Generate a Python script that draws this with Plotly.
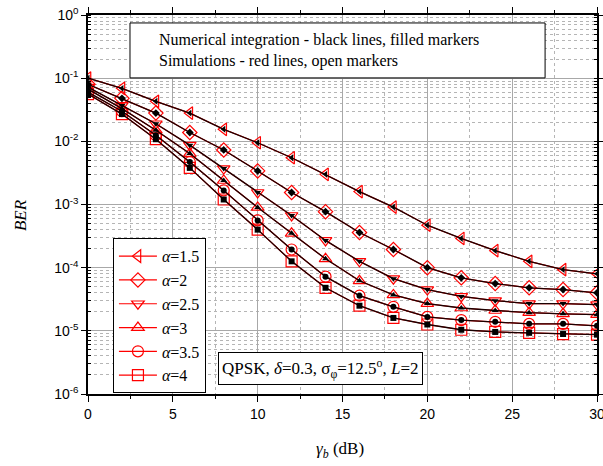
import plotly.graph_objects as go

snr_db = [0, 2, 4, 6, 8, 10, 12, 14, 16, 18, 20, 22, 24, 26, 28, 30]

ber_a15 = [0.1, 0.069, 0.043, 0.028, 0.0155, 0.0095, 0.0055, 0.0030, 0.0016, 0.00091,
           0.00047, 0.00029, 0.000186, 0.000126, 9.3e-5, 8.0e-5]
ber_a2 = [0.08, 0.048, 0.028, 0.0138, 0.0073, 0.0034, 0.00155, 0.00077, 0.00036, 0.000194,
          0.0001, 6.9e-5, 5.6e-5, 4.8e-5, 4.5e-5, 4.0e-5]
ber_a25 = [0.072, 0.037, 0.019, 0.0087, 0.0037, 0.00155, 0.00067, 0.00027, 0.000126, 6.7e-5,
           4.5e-5, 3.5e-5, 3.0e-5, 2.7e-5, 2.7e-5, 2.6e-5]
ber_a3 = [0.067, 0.033, 0.015, 0.0064, 0.0024, 0.0009, 0.00035, 0.000138, 6.2e-5, 3.7e-5,
          2.7e-5, 2.3e-5, 2.1e-5, 1.94e-5, 1.86e-5, 1.8e-5]
ber_a35 = [0.06, 0.030, 0.0125, 0.0047, 0.00167, 0.00056, 0.000194, 7.2e-5, 3.6e-5, 2.4e-5,
           1.66e-5, 1.48e-5, 1.39e-5, 1.29e-5, 1.29e-5, 1.2e-5]
ber_a4 = [0.056, 0.027, 0.0108, 0.0038, 0.0012, 0.0004, 0.000126, 4.8e-5, 2.5e-5, 1.6e-5,
          1.26e-5, 1.04e-5, 9.6e-6, 9.3e-6, 8.9e-6, 8.7e-6]

alpha_labels = ["1.5", "2", "2.5", "3", "3.5", "4"]
series = [ber_a15, ber_a2, ber_a25, ber_a3, ber_a35, ber_a4]
symbols = ["triangle-left", "diamond", "triangle-down", "triangle-up", "circle", "square"]

y_tickvals = [1e-6, 1e-5, 1e-4, 1e-3, 1e-2, 1e-1, 1]
y_ticktext = ["10<sup>-6</sup>", "10<sup>-5</sup>", "10<sup>-4</sup>", "10<sup>-3</sup>",
              "10<sup>-2</sup>", "10<sup>-1</sup>", "10<sup>0</sup>"]
x_tickvals = [0, 5, 10, 15, 20, 25, 30]

serif = "Liberation Serif"
sans = "Liberation Sans"

fig = go.Figure()

# Simulations: red lines, open markers (shown in legend)
for lab, ys, sym in zip(alpha_labels, series, symbols):
    fig.add_trace(go.Scatter(
        x=snr_db, y=ys, mode="lines+markers",
        name=f"<i>α</i>=" + lab,
        line=dict(color="#ff0000", width=1.2),
        marker=dict(symbol=sym + "-open", size=11, color="#ff0000", line=dict(width=1.2, color="#ff0000")),
    ))

# Numerical integration: black lines, filled markers
for lab, ys, sym in zip(alpha_labels, series, symbols):
    fig.add_trace(go.Scatter(
        x=snr_db, y=ys, mode="lines+markers",
        showlegend=False,
        line=dict(color="#1a0000", width=1.3),
        marker=dict(symbol=sym, size=6, color="black"),
    ))

fig.update_layout(
    width=603, height=466,
    margin=dict(l=88, r=6, t=15, b=72, autoexpand=False),
    paper_bgcolor="white", plot_bgcolor="white",
    showlegend=True,
    legend=dict(
        x=0.049, y=0.411, xanchor="left", yanchor="top",
        bgcolor="white", bordercolor="black", borderwidth=1,
        font=dict(family=serif, size=16, color="black"),
        itemwidth=38, tracegroupgap=0,
    ),
    xaxis=dict(
        range=[0, 30], tickvals=x_tickvals, automargin=False, ticklabeloverflow="allow",
        showline=True, linecolor="black", linewidth=1.5, mirror="allticks",
        ticks="outside", ticklen=6, tickwidth=1.2, tickcolor="black",
        showgrid=True, gridcolor="#a8a8a8", gridwidth=1,
        zeroline=False,
        tickfont=dict(family=sans, size=14, color="black"),
        minor=dict(dtick=2.5, showgrid=True, gridcolor="#b5b5b5", griddash="dot",
                   ticks="outside", ticklen=3, tickcolor="black"),
    ),
    yaxis=dict(
        type="log", range=[-6, 0], tickvals=y_tickvals, ticktext=y_ticktext, automargin=False,
        ticklabeloverflow="allow",
        showline=True, linecolor="black", linewidth=1.5, mirror="allticks",
        ticks="outside", ticklen=5, tickwidth=1.2, tickcolor="black",
        showgrid=True, gridcolor="#a8a8a8", gridwidth=1,
        zeroline=False,
        tickfont=dict(family=sans, size=14, color="black"),
        minor=dict(dtick="D1", showgrid=True, gridcolor="#b5b5b5", griddash="dot",
                   ticks="inside", ticklen=3, tickcolor="black"),
    ),
)

# Axis titles
fig.add_annotation(xref="paper", yref="paper", x=-0.1336, y=0.472, textangle=-90,
                   xanchor="center", yanchor="middle", showarrow=False,
                   text="<i>BER</i>", font=dict(family=serif, size=17, color="black"))
fig.add_annotation(xref="paper", yref="paper", x=0.495, y=-0.148,
                   xanchor="center", yanchor="middle", showarrow=False,
                   text="<i>γ<sub>b</sub></i> (dB)", font=dict(family=serif, size=17, color="black"))

# Top info box
fig.add_shape(type="rect", xref="paper", yref="paper",
              x0=0.0825, x1=0.898, y0=0.834, y1=0.979,
              fillcolor="white", line=dict(color="black", width=1), layer="above")
fig.add_annotation(xref="paper", yref="paper", x=0.1356, y=0.906,
                   xanchor="left", yanchor="middle", align="left", showarrow=False,
                   text="Numerical integration - black lines, filled markers<br>Simulations - red lines, open markers",
                   font=dict(family=serif, size=16, color="black"))

# Bottom parameter box
fig.add_annotation(xref="paper", yref="paper", x=0.457, y=0.0686,
                   xanchor="center", yanchor="middle", showarrow=False,
                   text="QPSK, <i>δ</i>=0.3, σ<sub>φ</sub>=12.5<sup>o</sup>, <i>L</i>=2",
                   font=dict(family=serif, size=17, color="black"),
                   bgcolor="white", bordercolor="black", borderwidth=1, borderpad=3)

fig.write_html("out.html", config={"displayModeBar": False},
               post_script="document.body.style.margin='0px';")
